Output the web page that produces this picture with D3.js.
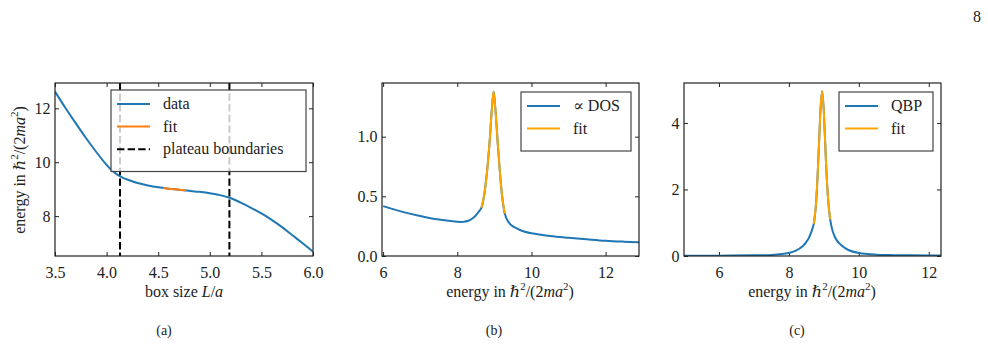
<!DOCTYPE html>
<html>
<head>
<meta charset="utf-8">
<script src="https://cdn.jsdelivr.net/npm/d3@7"></script>
<style>
  body { margin: 0; background: #fff; }
  svg { display: block; }
</style>
</head>
<body>
<svg id="chart" width="988" height="362"></svg>
<script>
// panel (a): energy vs box size
var boxL   = [3.5, 3.6, 3.7, 3.8, 3.9, 4.0, 4.05, 4.1, 4.15, 4.2, 4.3, 4.4, 4.5, 4.6, 4.7, 4.8, 4.9, 5.0, 5.1, 5.2, 5.3, 5.4, 5.5, 5.6, 5.7, 5.8, 5.9, 6.0];
var boxE   = [12.62, 12.02, 11.45, 10.9, 10.38, 9.90, 9.70, 9.55, 9.44, 9.36, 9.23, 9.14, 9.07, 9.02, 8.98, 8.94, 8.90, 8.85, 8.78, 8.67, 8.50, 8.31, 8.10, 7.86, 7.59, 7.29, 6.99, 6.68];
var fitL   = [4.55, 4.6, 4.65, 4.7, 4.77];
var fitE   = [9.04, 9.02, 9.0, 8.98, 8.955];
var plateau = [4.13, 5.19];

// panel (b): density of states
var dosX = [6.0, 6.5, 7.0, 7.5, 8.0, 8.15, 8.3, 8.45, 8.55, 8.65, 8.72, 8.8, 8.87, 8.93, 8.98, 9.03, 9.09, 9.15, 9.21, 9.28, 9.35, 9.45, 9.6, 9.8, 10.0, 10.5, 11.0, 11.5, 12.0, 12.5, 12.9];
var dosY = [0.418, 0.372, 0.335, 0.305, 0.287, 0.286, 0.295, 0.325, 0.36, 0.404, 0.5, 0.7, 0.95, 1.22, 1.378, 1.22, 0.95, 0.7, 0.5, 0.356, 0.3, 0.26, 0.232, 0.205, 0.19, 0.168, 0.153, 0.14, 0.128, 0.12, 0.115];
var dosFitRange = [8.65, 9.28];

// panel (c): QBP
var qbpX = [5.0, 6.0, 7.0, 7.5, 8.0, 8.2, 8.4, 8.55, 8.65, 8.71, 8.77, 8.82, 8.87, 8.91, 8.95, 8.99, 9.03, 9.08, 9.13, 9.18, 9.25, 9.35, 9.5, 9.7, 10.0, 10.5, 11.0, 12.0, 12.35];
var qbpY = [0.005, 0.01, 0.02, 0.03, 0.09, 0.16, 0.3, 0.5, 0.75, 0.96, 1.5, 2.4, 3.6, 4.5, 4.95, 4.5, 3.6, 2.4, 1.6, 1.1, 0.75, 0.5, 0.32, 0.18, 0.09, 0.04, 0.025, 0.015, 0.012];
var qbpFitRange = [8.71, 9.18];

var ticksAX = [3.5, 4.0, 4.5, 5.0, 5.5, 6.0], ticksAY = [8, 10, 12];
var ticksBX = [6, 8, 10, 12], ticksBY = [0, 0.5, 1.0];
var ticksCX = [6, 8, 10, 12], ticksCY = [0, 2, 4];

var blue = "#1f77b4", orange = "#ff7f0e", orange2 = "#ffa500";
var serif = "'Liberation Serif', 'DejaVu Serif', serif";
var fs = 16;
var svg = d3.select("#chart").attr("font-family", serif);
var top_ = 83, bottom_ = 256;

function panel(id, left, right, xd, yd, xt, yt, xf, yf) {
    var x = d3.scaleLinear().domain(xd).range([left, right]);
    var y = d3.scaleLinear().domain(yd).range([bottom_, top_]);
    var g = svg.append("g");
    g.append("clipPath").attr("id", id).append("rect")
        .attr("x", left).attr("y", top_).attr("width", right - left).attr("height", bottom_ - top_);
    var ax = function (a, tr) {
        var s = g.append("g").attr("transform", tr).call(a);
        s.attr("font-family", serif).attr("font-size", fs);
        s.select(".domain").remove();
        s.selectAll(".tick line").attr("stroke", "#222");
        s.selectAll(".tick text").attr("fill", "#222");
        return s;
    };
    ax(d3.axisBottom(x).tickValues(xt).tickFormat(d3.format(xf)).tickSize(-4).tickPadding(11), "translate(0," + bottom_ + ")");
    ax(d3.axisTop(x).tickValues(xt).tickFormat("").tickSize(-4), "translate(0," + top_ + ")");
    ax(d3.axisLeft(y).tickValues(yt).tickFormat(d3.format(yf)).tickSize(-4).tickPadding(4.5), "translate(" + left + ",0)");
    ax(d3.axisRight(y).tickValues(yt).tickFormat("").tickSize(-4), "translate(" + right + ",0)");
    var plot = g.append("g").attr("clip-path", "url(#" + id + ")");
    return { g: g, plot: plot, x: x, y: y, left: left, right: right };
}

function frame(p) {
    p.g.append("rect").attr("x", p.left).attr("y", top_)
        .attr("width", p.right - p.left).attr("height", bottom_ - top_)
        .attr("fill", "none").attr("stroke", "#222").attr("stroke-width", 1.2);
}

function line(p, xs, ys, color, lo, hi) {
    var pts = xs.map((d, i) => [d, ys[i]]).filter(d => (lo === undefined || (d[0] >= lo && d[0] <= hi)));
    var gen = d3.line().x(d => p.x(d[0])).y(d => p.y(d[1])).curve(d3.curveCatmullRom.alpha(0.5));
    p.plot.append("path").datum(pts).attr("fill", "none").attr("stroke", color)
        .attr("stroke-width", 2).attr("d", gen);
}

function legend(p, x0, y0, w, items) {
    var h = 14 + items.length * 22.5;
    var lg = p.g.append("g");
    lg.append("rect").attr("x", x0).attr("y", y0).attr("width", w).attr("height", h)
        .attr("fill", "#fff").attr("fill-opacity", 0.8).attr("stroke", "#444").attr("stroke-width", 1.2);
    items.forEach(function (it, i) {
        var cy = y0 + 14 + i * 22.6;
        lg.append("line").attr("x1", x0 + 6).attr("x2", x0 + 39).attr("y1", cy).attr("y2", cy)
            .attr("stroke", it.color).attr("stroke-width", 2)
            .attr("stroke-dasharray", it.dash ? "7.4,3.2" : null);
        lg.append("text").attr("x", x0 + 52).attr("y", cy + 5).attr("font-size", fs)
            .attr("fill", "#222").text(it.label);
    });
}

function energyLabel(sel) {
    sel.append("tspan").text("energy in ");
    sel.append("tspan").attr("font-style", "italic").text("ℏ");
    sel.append("tspan").attr("font-size", 11).attr("dy", -7).text("2");
    sel.append("tspan").attr("dy", 7).text("/(2");
    sel.append("tspan").attr("font-style", "italic").text("ma");
    sel.append("tspan").attr("font-size", 11).attr("dy", -7).text("2");
    sel.append("tspan").attr("dy", 7).text(")");
}

// (a)
var pa = panel("ca", 55, 313, [3.5, 6.0], [6.52, 12.94], ticksAX, ticksAY, ".1f", "d");
line(pa, boxL, boxE, blue);
line(pa, fitL, fitE, orange);
pa.plot.selectAll(".plateau").data(plateau).enter().append("line")
    .attr("x1", d => pa.x(d)).attr("x2", d => pa.x(d)).attr("y1", top_).attr("y2", bottom_)
    .attr("stroke", "#000").attr("stroke-width", 2).attr("stroke-dasharray", "7.4,3.2");
legend(pa, 111, 90, 195, [
    { label: "data", color: blue },
    { label: "fit", color: orange },
    { label: "plateau boundaries", color: "#000", dash: true }
]);
frame(pa);
var xla = svg.append("text").attr("x", 184).attr("y", 297).attr("text-anchor", "middle")
    .attr("font-size", fs).attr("fill", "#222");
xla.append("tspan").text("box size ");
xla.append("tspan").attr("font-style", "italic").text("L");
xla.append("tspan").text("/");
xla.append("tspan").attr("font-style", "italic").text("a");
var yla = svg.append("text").attr("transform", "translate(25,170) rotate(-90)").attr("text-anchor", "middle")
    .attr("font-size", fs).attr("fill", "#222");
energyLabel(yla);

// (b)
var pb = panel("cb", 382, 639, [5.97, 12.9], [0, 1.45], ticksBX, ticksBY, "d", ".1f");
line(pb, dosX, dosY, blue);
line(pb, dosX, dosY, orange2, dosFitRange[0], dosFitRange[1]);
legend(pb, 521, 92, 110, [
    { label: "∝ DOS", color: blue },
    { label: "fit", color: orange2 }
]);
frame(pb);
energyLabel(svg.append("text").attr("x", 510).attr("y", 297).attr("text-anchor", "middle").attr("font-size", fs).attr("fill", "#222"));

// (c)
var pc = panel("cc", 684, 941, [5.0, 12.35], [0, 5.2], ticksCX, ticksCY, "d", "d");
line(pc, qbpX, qbpY, blue);
line(pc, qbpX, qbpY, orange2, qbpFitRange[0], qbpFitRange[1]);
legend(pc, 839, 92, 94, [
    { label: "QBP", color: blue },
    { label: "fit", color: orange2 }
]);
frame(pc);
energyLabel(svg.append("text").attr("x", 812).attr("y", 297).attr("text-anchor", "middle").attr("font-size", fs).attr("fill", "#222"));

// sub-captions and page number
[["(a)", 164], ["(b)", 494], ["(c)", 797]].forEach(function (c) {
    svg.append("text").attr("x", c[1]).attr("y", 335).attr("text-anchor", "middle")
        .attr("font-size", 14).attr("fill", "#222").text(c[0]);
});
svg.append("text").attr("x", 977).attr("y", 22).attr("text-anchor", "middle")
    .attr("font-size", 16).attr("fill", "#222").text("8");
</script>
</body>
</html>
